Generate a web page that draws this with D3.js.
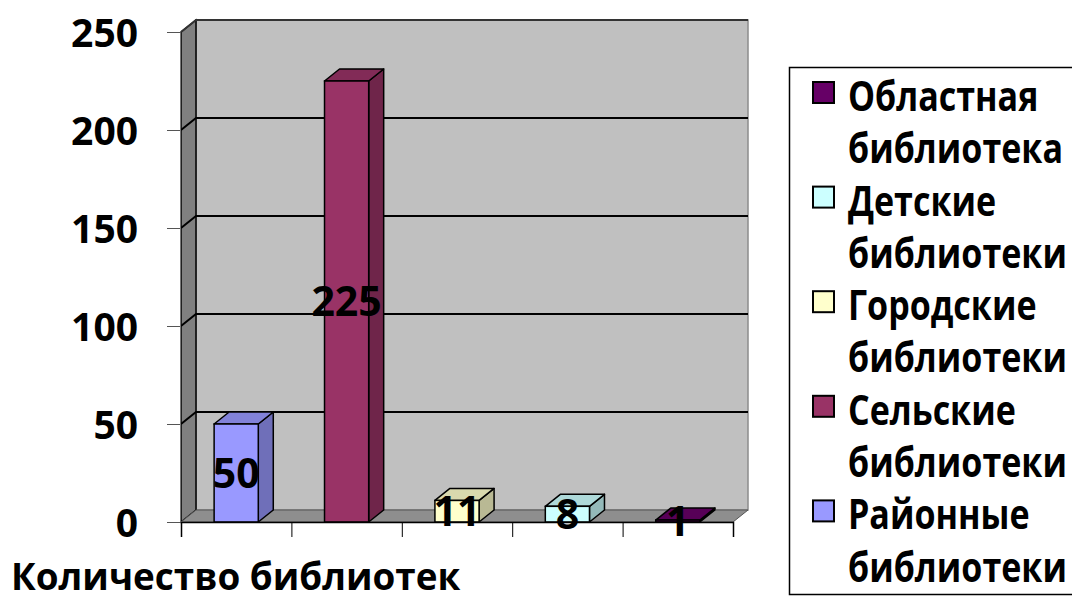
<!DOCTYPE html>
<html>
<head>
<meta charset="utf-8">
<script src="https://cdn.jsdelivr.net/npm/d3@7"></script>
<style>
  body { margin: 0; background: #fff; }
  svg text { font-family: "Open Sans", "Noto Sans", sans-serif; font-weight: bold; fill: #000; }
</style>
</head>
<body>
<svg width="1072" height="597"></svg>
<script>
// chart data
const categories = ['Районные библиотеки', 'Сельские библиотеки', 'Городские библиотеки', 'Детские библиотеки', 'Областная библиотека'];
const values = [50, 225, 11, 8, 1];
const colors = ['#9999ff', '#993366', '#ffffcc', '#ccffff', '#660066'];
const yTicks = [0, 50, 100, 150, 200, 250];
const axisTitle = 'Количество библиотек';

const svg = d3.select('svg');

// 3d depth offset
const dx = 15, dy = -12;
const plotLeft = 181, plotRight = 733, plotBottom = 522, plotTop = 32;

const x = d3.scaleBand().domain(categories).range([plotLeft, plotRight]).paddingInner(0.6).paddingOuter(0.3);
const y = d3.scaleLinear().domain([0, 250]).range([plotBottom, plotTop]);
const xEdges = d3.scaleLinear().domain([0, categories.length]).range([plotLeft, plotRight]);

const poly = pts => 'M' + pts.map(p => p.join(',')).join('L') + 'Z';

// squeeze text horizontally (the original font is narrower)
function squeeze(sel, k) {
  sel.each(function() {
    const w = this.getComputedTextLength();
    d3.select(this).attr('textLength', w * k).attr('lengthAdjust', 'spacingAndGlyphs');
  });
}

// back wall
svg.append('path')
  .attr('d', poly([[plotLeft + dx, plotTop + dy], [plotRight + dx, plotTop + dy], [plotRight + dx, plotBottom + dy], [plotLeft + dx, plotBottom + dy]]))
  .attr('fill', '#c0c0c0')
  .attr('stroke', '#8c8c8c')
  .attr('stroke-width', 1.5);

// left wall
svg.append('path')
  .attr('d', poly([[plotLeft, plotTop], [plotLeft + dx, plotTop + dy], [plotLeft + dx, plotBottom + dy], [plotLeft, plotBottom]]))
  .attr('fill', '#808080')
  .attr('stroke', '#000')
  .attr('stroke-width', 1.5);

// floor
svg.append('path')
  .attr('d', poly([[plotLeft, plotBottom], [plotRight, plotBottom], [plotRight + dx, plotBottom + dy], [plotLeft + dx, plotBottom + dy]]))
  .attr('fill', '#8e8e8e')
  .attr('stroke', '#555')
  .attr('stroke-width', 1);

// gridlines on the back and left walls
const grid = svg.append('g');
yTicks.filter(v => v > 0).forEach(v => {
  grid.append('path')
    .attr('d', `M${plotLeft},${y(v)}L${plotLeft + dx},${y(v) + dy}L${plotRight + dx},${y(v) + dy}`)
    .attr('fill', 'none')
    .attr('stroke', v === 250 ? '#333' : '#000')
    .attr('stroke-width', 2);
});

// bars
const shade = (c, k) => d3.color(c).darker(k).formatHex();
const bars = svg.append('g').selectAll('g')
  .data(categories.map((c, i) => ({ c, v: values[i], col: colors[i] })))
  .join('g');

bars.each(function(d) {
  const g = d3.select(this);
  const x0 = x(d.c), x1 = x0 + x.bandwidth();
  const yt = y(d.v), yb = y(0);
  // side
  g.append('path')
    .attr('d', poly([[x1, yt], [x1 + dx, yt + dy], [x1 + dx, yb + dy], [x1, yb]]))
    .attr('fill', shade(d.col, 0.9))
    .attr('stroke', '#000').attr('stroke-width', 1.5).attr('stroke-linejoin', 'round');
  // top
  g.append('path')
    .attr('d', poly([[x0, yt], [x1, yt], [x1 + dx, yt + dy], [x0 + dx, yt + dy]]))
    .attr('fill', shade(d.col, 0.45))
    .attr('stroke', '#000').attr('stroke-width', 1.5).attr('stroke-linejoin', 'round');
  // front
  g.append('rect')
    .attr('x', x0).attr('y', yt)
    .attr('width', x1 - x0).attr('height', yb - yt)
    .attr('fill', d.col)
    .attr('stroke', '#000').attr('stroke-width', 1.5);
});

// y axis
const yAxis = svg.append('g')
  .attr('transform', `translate(${plotLeft - 1},0)`)
  .call(d3.axisLeft(y).tickValues(yTicks).tickSize(13).tickPadding(29).tickSizeOuter(0));
yAxis.select('.domain').attr('stroke', '#777');
yAxis.selectAll('.tick line').attr('stroke', '#555');
yAxis.selectAll('.tick text')
  .attr('font-size', 39)
  .attr('dy', '0.36em');

// x axis: ticks at category boundaries, no labels
const xAxis = svg.append('g')
  .attr('transform', `translate(0,${plotBottom})`)
  .call(d3.axisBottom(xEdges).ticks(categories.length).tickSize(15).tickFormat(''));
xAxis.select('.domain').attr('stroke', '#000').attr('stroke-width', 1.5);
xAxis.selectAll('.tick line').attr('stroke', '#000');

// value labels
svg.append('g').selectAll('text')
  .data(values)
  .join('text')
  .attr('x', (v, i) => x(categories[i]) + x.bandwidth() / 2)
  .attr('y', v => (y(v) + y(0)) / 2 + 4)
  .attr('text-anchor', 'middle')
  .attr('dominant-baseline', 'middle')
  .attr('font-size', 41)
  .text(v => v);

// axis title
svg.append('text')
  .attr('x', 11)
  .attr('y', 590)
  .attr('font-size', 38)
  .text(axisTitle)
  .call(squeeze, 0.97);

// legend (reverse order, as in the reference)
const legend = svg.append('g');
legend.append('rect')
  .attr('x', 789.5).attr('y', 67.5)
  .attr('width', 300).attr('height', 527)
  .attr('fill', '#fff')
  .attr('stroke', '#000').attr('stroke-width', 1.5);

const items = categories.map((c, i) => ({ c, col: colors[i] })).reverse();
const li = legend.selectAll('g.item')
  .data(items)
  .join('g')
  .attr('class', 'item')
  .attr('transform', (d, i) => `translate(0,${i * 104.6})`);

li.append('rect')
  .attr('x', 813).attr('y', 82)
  .attr('width', 21).attr('height', 21)
  .attr('fill', d => d.col)
  .attr('stroke', '#000').attr('stroke-width', 2);

li.selectAll('text')
  .data(d => d.c.split(' '))
  .join('text')
  .attr('x', 848)
  .attr('y', (s, j) => 111 + j * 52.3)
  .attr('font-size', 41)
  .text(s => s)
  .call(squeeze, 0.83);
</script>
</body>
</html>
